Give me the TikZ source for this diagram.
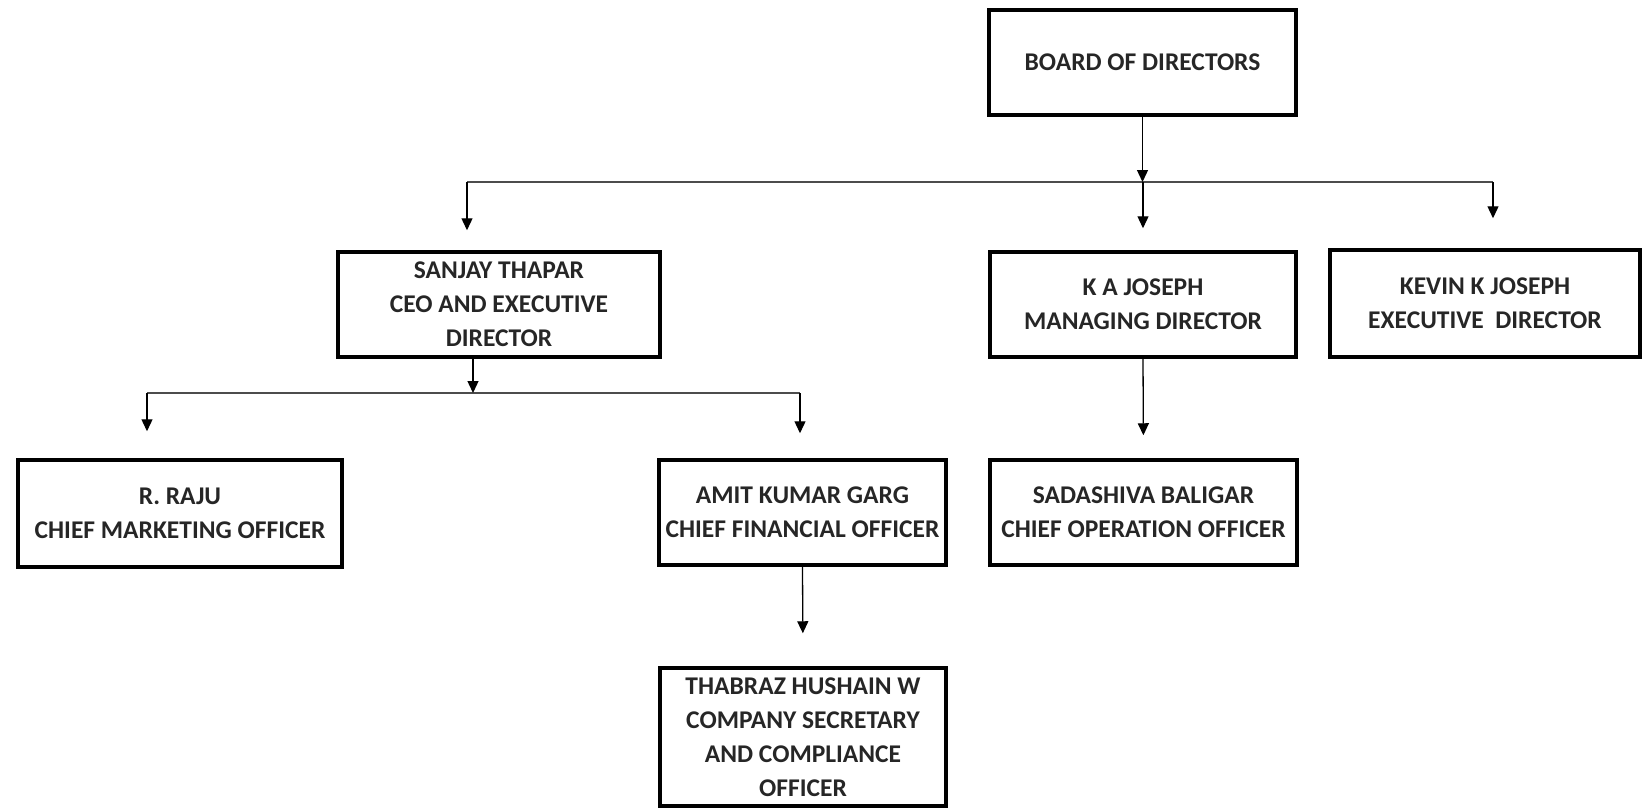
\documentclass[tikz,border=0pt]{standalone}
\usepackage{fontspec}
\setmainfont{Carlito}
\usetikzlibrary{arrows.meta}
\begin{document}
\begin{tikzpicture}[x=1pt,y=-1pt,
  box/.style={draw, line width=3.5pt, align=center, inner sep=0pt,
    font=\fontsize{25.5}{34}\selectfont\bfseries, text=black!85},
  arr/.style={line width=1.3pt, -{Triangle[length=12pt,width=11pt]}},
  bus/.style={line width=2pt, black!70}]
\useasboundingbox (0,0) rectangle (1642,807);
\node[box, minimum width=307, minimum height=105] (board) at (1142.5,62.5) {BOARD OF DIRECTORS};
\node[box, minimum width=322, minimum height=105] (sanjay) at (499,304.5) {SANJAY THAPAR\\CEO AND EXECUTIVE\\DIRECTOR};
\node[box, minimum width=306, minimum height=105] (ka) at (1143,304.5) {K A JOSEPH\\MANAGING DIRECTOR};
\node[box, minimum width=310, minimum height=107] (kevin) at (1485,303.5) {KEVIN K JOSEPH\\EXECUTIVE\ \ DIRECTOR};
\node[box, minimum width=324, minimum height=107] (raju) at (180,513.5) {R. RAJU\\CHIEF MARKETING OFFICER};
\node[box, minimum width=287, minimum height=105] (amit) at (802.5,512.5) {AMIT KUMAR GARG\\CHIEF FINANCIAL OFFICER};
\node[box, minimum width=307, minimum height=105] (sada) at (1143.5,512.5) {SADASHIVA BALIGAR\\CHIEF OPERATION OFFICER};
\node[box, minimum width=286, minimum height=138] (thabraz) at (803,737) {THABRAZ HUSHAIN W\\COMPANY SECRETARY\\AND COMPLIANCE\\OFFICER};
\coordinate (b1l) at (467,182);
\coordinate (b1r) at (1493,182);
\coordinate (s2) at (473,393);
\coordinate (b2l) at (147,393);
\coordinate (b2r) at (800,393);
\path[draw,bus] (b1l) -- (b1r);
\path[draw,bus] (b2l) -- (b2r);
\path[draw,arr] (board.south) -- (board.south |- b1l);
\path[draw,arr,shorten >=20pt] (b1l) -- (b1l |- sanjay.north);
\path[draw,arr,shorten >=22pt] (ka.north |- b1l) -- (ka.north);
\path[draw,arr,shorten >=30pt] (b1r) -- (b1r |- kevin.north);
\path[draw,arr] (sanjay.south -| s2) -- (s2);
\path[draw,arr,shorten >=27pt] (b2l) -- (b2l |- raju.north);
\path[draw,arr,shorten >=25pt] (b2r) -- (b2r |- amit.north);
\path[draw,arr,shorten >=33pt] (amit.south) -- (thabraz.north);
\path[draw,arr,shorten >=23pt] (ka.south) -- (sada.north);
\end{tikzpicture}
\end{document}
